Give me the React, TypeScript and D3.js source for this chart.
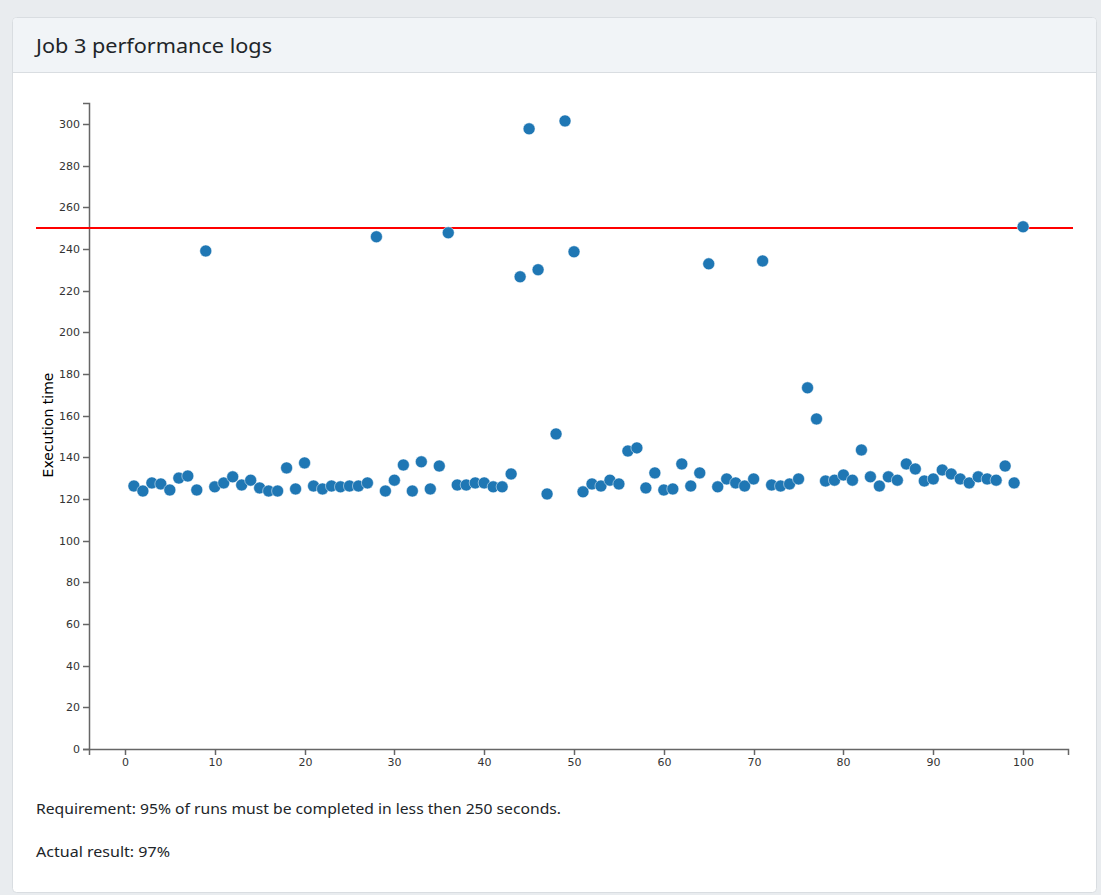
import React from "react";
import * as d3 from "d3";

const runs: number[] = d3.range(1, 101);
const executionTimes: number[] = [
  126.2, 123.8, 127.7, 127.2, 124.3, 130.0, 131.0, 124.3, 239.0, 125.8,
  127.7, 130.6, 126.7, 129.0, 125.3, 123.8, 123.8, 134.9, 124.8, 137.3,
  126.2, 124.8, 126.2, 125.8, 126.2, 126.2, 127.7, 245.8, 123.8, 129.0,
  136.3, 123.8, 137.8, 124.8, 135.8, 247.7, 126.7, 126.7, 127.7, 127.7,
  125.8, 125.8, 132.0, 226.6, 297.6, 230.0, 122.4, 151.2, 301.4, 238.6,
  123.4, 127.2, 126.2, 129.0, 127.2, 143.0, 144.5, 125.3, 132.5, 124.3,
  124.8, 136.8, 126.2, 132.5, 232.8, 125.8, 129.6, 127.7, 126.2, 129.6,
  234.2, 126.7, 126.2, 127.2, 129.6, 173.3, 158.4, 128.6, 129.0, 131.5,
  129.0, 143.5, 130.6, 126.2, 130.6, 129.0, 136.8, 134.4, 128.6, 129.6,
  133.9, 132.0, 129.6, 127.7, 130.6, 129.6, 129.0, 135.8, 127.7, 250.6,
];
const xTicks: number[] = [0, 10, 20, 30, 40, 50, 60, 70, 80, 90, 100];
const yTicks: number[] = [0, 20, 40, 60, 80, 100, 120, 140, 160, 180, 200, 220, 240, 260, 280, 300];
const threshold = 250;
const title = "Job 3 performance logs";
const yLabel = "Execution time";
const requirementText = "Requirement: 95% of runs must be completed in less then 250 seconds.";
const resultText = "Actual result: 97%";

export default function App() {
  const W = 1101, H = 895;
  const x = d3.scaleLinear().domain([-4, 105]).range([89, 1068]);
  const y = d3.scaleLinear().domain([0, 310]).range([749, 103]);
  const axisColor = "#666";
  const tickText = "#333";
  const font = "'DejaVu Sans', sans-serif";
  const uiFont = "'Noto Sans', 'Open Sans', sans-serif";
  const [x0, x1] = x.range();
  const [y0, y1] = y.range();

  return (
    <svg width={W} height={H} style={{ position: "absolute", left: 0, top: 0, display: "block" }}>
      <rect x={0} y={0} width={W} height={H} fill="#e9ecef" />
      {/* card */}
      <rect x={12.5} y={17.5} width={1084} height={875} rx={4} fill="#fff" stroke="#d9dde1" />
      <path d={`M13,72 V21.5 Q13,18 16.5,18 H1092.5 Q1096,18 1096,21.5 V72 Z`} fill="#f1f4f7" />
      <line x1={13} x2={1096} y1={72.5} y2={72.5} stroke="#d9dde1" />
      <text x={36} y={53} fontFamily={uiFont} fontSize={20} fill="#212529" textLength={236} lengthAdjust="spacingAndGlyphs">{title}</text>

      {/* y axis */}
      <g>
        <path d={`M${x0 - 6},${y1 + 0.5}H${x0 + 0.5}V${y0 + 0.5}H${x0 - 6}`} fill="none" stroke={axisColor} strokeWidth={1.5} />
        {yTicks.map((t) => (
          <g key={t} transform={`translate(0,${Math.round(y(t)) + 0.5})`}>
            <line x1={x0 - 6} x2={x0} stroke={axisColor} strokeWidth={1.5} />
            <text x={x0 - 9} dy="0.32em" textAnchor="end" fontFamily={font} fontSize={11} fill={tickText}>{t}</text>
          </g>
        ))}
      </g>
      {/* x axis */}
      <g>
        <path d={`M${x0 + 0.5},${y0 + 6}V${y0 + 0.5}H${x1 + 0.5}V${y0 + 6}`} fill="none" stroke={axisColor} strokeWidth={1.5} />
        {xTicks.map((t) => (
          <g key={t} transform={`translate(${Math.round(x(t)) + 0.5},0)`}>
            <line y1={y0} y2={y0 + 6} stroke={axisColor} strokeWidth={1.5} />
            <text y={y0 + 9} dy="0.71em" textAnchor="middle" fontFamily={font} fontSize={11} fill={tickText}>{t}</text>
          </g>
        ))}
      </g>
      <text transform={`translate(53,${425}) rotate(-90)`} textAnchor="middle" fontFamily={font} fontSize={14} fill="#000">{yLabel}</text>

      {/* threshold */}
      <line x1={36} x2={1073} y1={y(threshold)} y2={y(threshold)} stroke="red" strokeWidth={2} />

      {/* points */}
      {runs.map((r, i) => (
        <circle key={r} cx={x(r)} cy={y(executionTimes[i])} r={6} fill="#1f77b4" stroke="#fff" strokeWidth={0.5} />
      ))}

      <text x={36} y={814} fontFamily={uiFont} fontSize={15} fill="#212529" textLength={525} lengthAdjust="spacingAndGlyphs">{requirementText}</text>
      <text x={36} y={857} fontFamily={uiFont} fontSize={15} fill="#212529" textLength={134} lengthAdjust="spacingAndGlyphs">{resultText}</text>
    </svg>
  );
}
